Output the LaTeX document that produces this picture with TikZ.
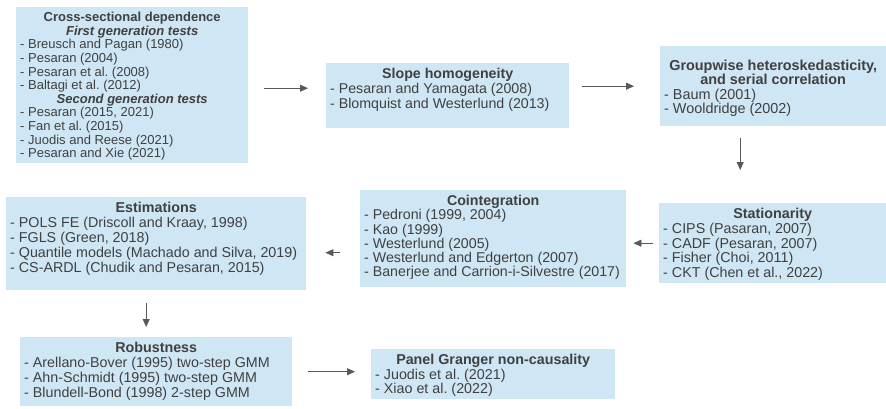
\documentclass[tikz,border=0pt]{standalone}
\usepackage{fontspec}
\setmainfont{Liberation Sans}
\usepackage{xcolor}
\usetikzlibrary{arrows}
\usetikzlibrary{arrows.meta}
\definecolor{boxblue}{RGB}{207,230,244}
\definecolor{inktext}{RGB}{64,64,64}
\definecolor{inkarrow}{RGB}{89,89,89}
\frenchspacing
\newcommand{\boxtitle}[1]{\makebox[\linewidth][c]{\textbf{#1}}\\}
\newcommand{\boxsub}[1]{\makebox[\linewidth][c]{\textbf{\textit{#1}}}\\}
\newcommand{\boxtext}[3]{\begin{minipage}[c][#2][t]{#1}\raggedright #3\end{minipage}}

\begin{document}
\begin{tikzpicture}[x=1pt,y=-1pt,
  box/.style 2 args={fill=boxblue, text=inktext, anchor=north west,
    inner xsep=4pt, inner ysep=5pt, font=\fontsize{#1}{#2}\selectfont},
  flow/.style={draw=inkarrow, line width=0.8pt, -{Triangle[length=8pt,width=7pt]}}]
\useasboundingbox (0,0) rectangle (886,408);
% Blöcke, linke obere Ecke, Textbreite und -höhe:
\node[box={13}{13.6}] (csd) at (16,7) {\boxtext{224pt}{146pt}{%
  \boxtitle{Cross-sectional dependence}
  \boxsub{First generation tests}
  - Breusch and Pagan (1980)\\
  - Pesaran (2004)\\
  - Pesaran et al. (2008)\\
  - Baltagi et al. (2012)\\
  \boxsub{Second generation tests}
  - Pesaran (2015, 2021)\\
  - Fan et al. (2015)\\
  - Juodis and Reese (2021)\\
  - Pesaran and Xie (2021)}};
\node[box={14.2}{15}] (slope) at (326,63) {\boxtext{235pt}{55pt}{%
  \boxtitle{Slope homogeneity}
  - Pesaran and Yamagata (2008)\\
  - Blomquist and Westerlund (2013)}};
\node[box={14.4}{14.3}] (group) at (660,46) {\boxtext{218pt}{70pt}{%
  \vspace*{9pt}
  \boxtitle{Groupwise heteroskedasticity,}
  \boxtitle{and serial correlation}
  - Baum (2001)\\
  - Wooldridge (2002)}};
\node[box={14.3}{14.8}] (stat) at (659,203) {\boxtext{219pt}{70pt}{%
  \boxtitle{Stationarity}
  - CIPS (Pasaran, 2007)\\
  - CADF (Pesaran, 2007)\\
  - Fisher (Choi, 2011)\\
  - CKT (Chen et al., 2022)}};
\node[box={14.2}{14.3}] (coint) at (360,190) {\boxtext{258pt}{87pt}{%
  \boxtitle{Cointegration}
  - Pedroni (1999, 2004)\\
  - Kao (1999)\\
  - Westerlund (2005)\\
  - Westerlund and Edgerton (2007)\\
  - Banerjee and Carrion-i-Silvestre (2017)}};
\node[box={14.3}{15}] (estim) at (6,197) {\boxtext{292pt}{83pt}{%
  \boxtitle{Estimations}
  - POLS FE (Driscoll and Kraay, 1998)\\
  - FGLS (Green, 2018)\\
  - Quantile models (Machado and Silva, 2019)\\
  - CS-ARDL (Chudik and Pesaran, 2015)}};
\node[box={14.3}{15}] (robust) at (20,337) {\boxtext{264pt}{59pt}{%
  \boxtitle{Robustness}
  - Arellano-Bover (1995) two-step GMM\\
  - Ahn-Schmidt (1995) two-step GMM\\
  - Blundell-Bond (1998) 2-step GMM}};
\node[box={14.3}{14.5}] (granger) at (371,349) {\boxtext{236pt}{40pt}{%
  \boxtitle{Panel Granger non-causality}
  - Juodis et al. (2021)\\
  - Xiao et al. (2022)}};
% Pfeile zwischen den Blöcken:
\draw[flow, shorten <=16pt, shorten >=18pt] ([yshift=-3pt]csd.east) -- ([yshift=-3pt]csd.east -| slope.west);
\draw[flow, shorten <=13pt, shorten >=26pt] (group.west -| slope.east) -- (group.west);
\draw[flow, shorten <=12pt, shorten >=33pt] ([xshift=-33pt]group.south) -- ([xshift=-33pt]group.south |- stat.north);
\draw[flow, shorten <=6pt, shorten >=7pt] (stat.west) -- (stat.west -| coint.east);
\draw[flow, shorten <=20pt, shorten >=19pt] ([yshift=-14pt]coint.west) -- ([yshift=-14pt]coint.west -| estim.east);
\draw[flow, shorten <=13pt, shorten >=10pt] ([xshift=-10pt]estim.south) -- ([xshift=-10pt]estim.south |- robust.north);
\draw[flow, shorten <=16pt, shorten >=16pt] (robust.east) -- (robust.east -| granger.west);
\end{tikzpicture}
\end{document}
